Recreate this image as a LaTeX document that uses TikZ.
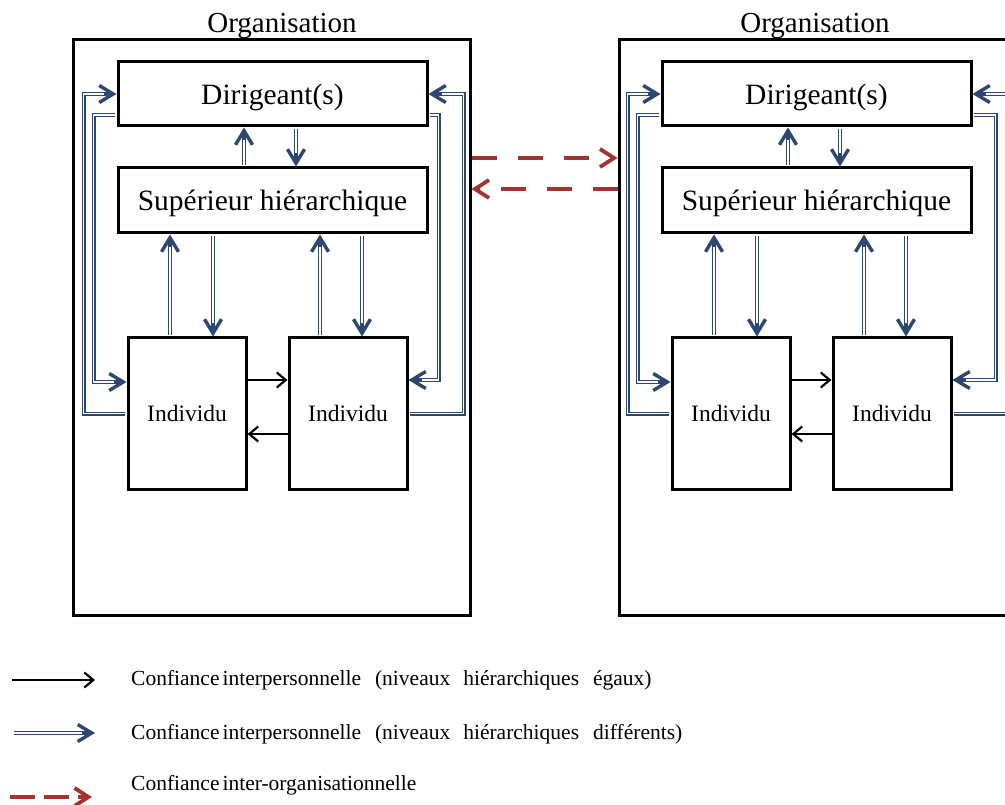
\documentclass[tikz,border=0pt]{standalone}
\usepackage{fontspec}
\setmainfont{Liberation Serif}
\usetikzlibrary{arrows.meta}
\definecolor{blu}{RGB}{44,72,112}
\definecolor{dred}{RGB}{160,52,48}
\newcommand\FsBig{\fontsize{29.5}{34}\selectfont}
\newcommand\FsOrg{\fontsize{29}{34}\selectfont}
\newcommand\FsInd{\fontsize{23.5}{28}\selectfont}
\newcommand\FsLeg{\fontsize{21.5}{26}\selectfont}
\begin{document}
\begin{tikzpicture}[x=1pt,y=-1pt,
  box/.style={draw=black, line width=3pt, inner sep=0pt, fill=white},
  blk/.style={draw=black, line width=2pt, -{Straight Barb[length=9pt,width=15pt,line width'=2.2pt]}},
  dbl/.style={draw=blu, line width=4pt, shorten <=1.5pt, -{Straight Barb[length=14pt,width=17pt,line width'=3.4pt]},
    postaction={draw=white, line width=1.4pt, arrows=-, shorten <=1.5pt, shorten >=13pt}},
  interorg/.style={draw=dred, line width=3.8pt, dash pattern=on 25pt off 21pt, -{Straight Barb[length=14pt,width=18pt,line width'=3.8pt]}},
  legtext/.style={anchor=base west, inner sep=0pt, font=\FsLeg}
]
\useasboundingbox (0,0) rectangle (1005,805);
\clip (0,0) rectangle (1005,805);
\fill[white] (0,0) rectangle (1005,805);

\node[font=\FsOrg, anchor=base, inner sep=0pt] (L-title) at (282,33) {Organisation};
\node[font=\FsOrg, anchor=base, inner sep=0pt] (R-title) at (815,33) {Organisation};

\foreach \p/\dx/\ox/\ri/\ro in {L/0/0/10/55,R/544/2/23/62}{
\begin{scope}[xshift=\dx]
  \node[box, minimum width=397pt, minimum height=575pt] (\p-org) at (271.5+\ox,327.5) {};
  \node[box, minimum width=309pt, minimum height=64pt, text depth=0pt, font=\FsBig] (\p-d) at (272.5,94) {Dirigeant(s)};
  \node[box, minimum width=309pt, minimum height=65pt, text depth=0pt, font=\FsBig] (\p-s) at (272.5,200.5) {Supérieur hiérarchique};
  \node[box, minimum width=118pt, minimum height=151pt, font=\FsInd] (\p-i1) at (187,413.5) {Individu};
  \node[box, minimum width=118pt, minimum height=151pt, font=\FsInd] (\p-i2) at (348,413.5) {Individu};
  % Dirigeant <-> Superieur
  \coordinate (\p-a) at ([xshift=-28.5pt]\p-s.north);
  \coordinate (\p-b) at ([xshift=23.5pt]\p-s.north);
  \draw[dbl] (\p-a) -- (\p-a |- \p-d.south);
  \draw[dbl] (\p-b |- \p-d.south) -- (\p-b);
  % Superieur <-> Individus
  \coordinate (\p-c) at ([xshift=-17pt]\p-i1.north);
  \coordinate (\p-e) at ([xshift=26pt]\p-i1.north);
  \coordinate (\p-f) at ([xshift=-28pt]\p-i2.north);
  \coordinate (\p-g) at ([xshift=14pt]\p-i2.north);
  \draw[dbl] (\p-c) -- (\p-c |- \p-s.south);
  \draw[dbl] (\p-e |- \p-s.south) -- (\p-e);
  \draw[dbl] (\p-f) -- (\p-f |- \p-s.south);
  \draw[dbl] (\p-g |- \p-s.south) -- (\p-g);
  % Individu <-> Individu
  \draw[blk] ([yshift=33.5pt]\p-i1.east) -- ([yshift=33.5pt]\p-i2.west);
  \draw[blk] ([yshift=-20.5pt]\p-i2.west) -- ([yshift=-20.5pt]\p-i1.east);
  % Dirigeant <-> Individus (side loops)
  \draw[dbl] (\p-i1.west) -- ++(-43,0) |- (\p-d.west);
  \draw[dbl] ([yshift=-21pt]\p-d.west) -- ++(-23,0) |- ([yshift=31.5pt]\p-i1.west);
  \draw[dbl] ([yshift=-21pt]\p-d.east) -- ++(\ri,0) |- ([yshift=33.5pt]\p-i2.east);
  \draw[dbl] (\p-i2.east) -- ++(\ro,0) |- (\p-d.east);
\end{scope}
}

% inter-organisation
\draw[interorg] ([yshift=169.5pt]L-org.east) -- ([yshift=169.5pt]R-org.west);
\draw[interorg] ([yshift=138.5pt]R-org.west) -- ([yshift=138.5pt]L-org.east);

% legend
\coordinate (k1s) at (12,680); \coordinate (k1e) at (95,680);
\coordinate (k2s) at (12,733); \coordinate (k2e) at (95,733);
\coordinate (k3s) at (10,797); \coordinate (k3e) at (92,797);
\draw[blk] (k1s) -- (k1e);
\draw[dbl] (k2s) -- (k2e);
\draw[interorg, dash pattern=on 25pt off 9pt] (k3s) -- (k3e);
\node[legtext] (t1) at (131,685) {Confiance\hspace{3pt}interpersonnelle\hspace{14pt}(niveaux\hspace{13pt}hiérarchiques\hspace{14pt}égaux)};
\node[legtext] (t2) at (131,739) {Confiance\hspace{3pt}interpersonnelle\hspace{14pt}(niveaux\hspace{13pt}hiérarchiques\hspace{14pt}différents)};
\node[legtext] (t3) at (131,790) {Confiance\hspace{3pt}inter-organisationnelle};
\end{tikzpicture}
\end{document}
